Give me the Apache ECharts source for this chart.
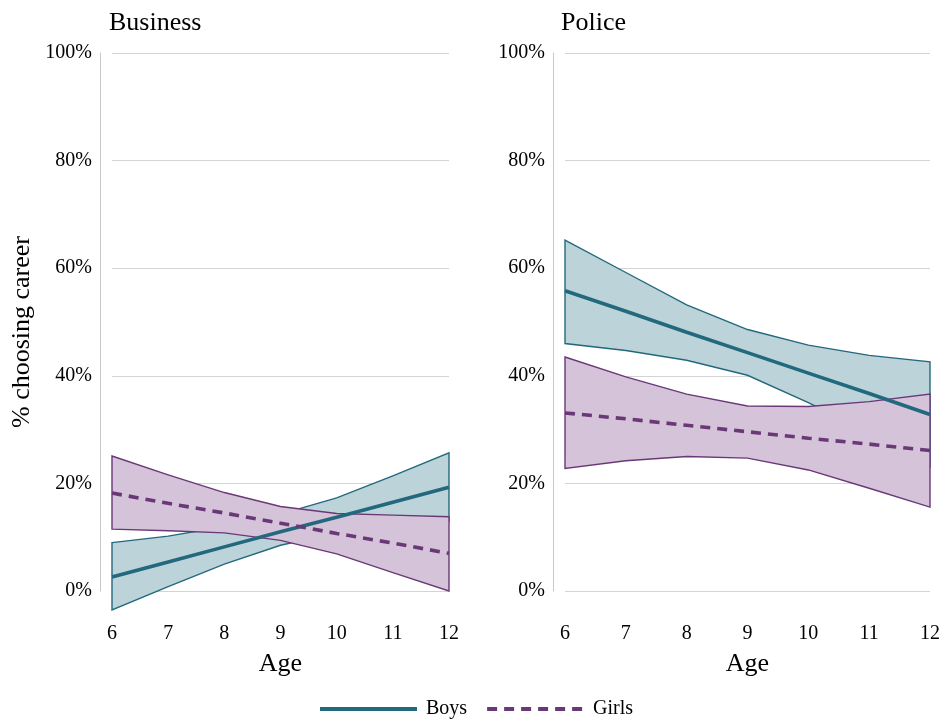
<!DOCTYPE html>
<html>
<head>
<meta charset="utf-8">
<script src="https://cdn.jsdelivr.net/npm/echarts@6/dist/echarts.min.js"></script>
<style>
  html, body { margin: 0; padding: 0; background: #fff; }
  #chart { width: 943px; height: 719px; }
</style>
</head>
<body>
<div id="chart"></div>
<script>
// Ages on the horizontal axis
const ages = [6, 7, 8, 9, 10, 11, 12];
const yTicks = [0, 20, 40, 60, 80, 100];

// Business: predicted % and confidence band
const businessBoysMid = [2.6, 5.4, 8.2, 11.0, 13.7, 16.5, 19.3];
const businessBoysLow = [-3.5, 0.8, 5.0, 8.5, 10.8, 12.0, 13.0];
const businessBoysHigh = [9.0, 10.2, 12.0, 14.3, 17.3, 21.4, 25.7];
const businessGirlsMid = [18.2, 16.3, 14.5, 12.6, 10.7, 8.9, 7.0];
const businessGirlsLow = [11.5, 11.2, 10.8, 9.4, 6.9, 3.4, 0.0];
const businessGirlsHigh = [25.1, 21.6, 18.3, 15.7, 14.4, 14.1, 13.8];

// Police: predicted % and confidence band
const policeBoysMid = [55.8, 52.0, 48.1, 44.3, 40.5, 36.7, 32.8];
const policeBoysLow = [46.0, 44.7, 42.9, 40.1, 35.0, 29.5, 23.0];
const policeBoysHigh = [65.2, 59.2, 53.2, 48.6, 45.7, 43.8, 42.6];
const policeGirlsMid = [33.1, 32.0, 30.8, 29.6, 28.4, 27.3, 26.1];
const policeGirlsLow = [22.8, 24.2, 25.0, 24.7, 22.5, 19.1, 15.6];
const policeGirlsHigh = [43.5, 39.8, 36.6, 34.4, 34.3, 35.2, 36.6];

const FONT = '"Liberation Serif", "Times New Roman", serif';
const BOYS = '#22697d';
const BOYS_FILL = '#bcd3da';
const GIRLS = '#6a3877';
const GIRLS_FILL = '#d4c3d9';

// Filled band polygon built from the lower/upper bounds through the axis scales
function band(name, axis, low, high, stroke, fill, z) {
  return {
    type: 'custom',
    name: name,
    xAxisIndex: axis,
    yAxisIndex: axis,
    clip: false,
    z: z,
    silent: true,
    data: ages.map((a, i) => [a, low[i], high[i]]),
    encode: { x: 0, y: [1, 2] },
    renderItem: function (params, api) {
      if (params.dataIndex !== 0) return null;
      const pts = [];
      for (let i = 0; i < ages.length; i++) pts.push(api.coord([ages[i], high[i]]));
      for (let i = ages.length - 1; i >= 0; i--) pts.push(api.coord([ages[i], low[i]]));
      return {
        type: 'polygon',
        shape: { points: pts },
        style: { fill: fill, stroke: stroke, lineWidth: 1.4 }
      };
    }
  };
}

function trend(name, axis, values, color, dashed) {
  return {
    type: 'line',
    name: name,
    xAxisIndex: axis,
    yAxisIndex: axis,
    symbol: 'none',
    z: 5,
    silent: true,
    data: ages.map((a, i) => [a, values[i]]),
    lineStyle: { color: color, width: 3.6, type: dashed ? [10, 7] : 'solid' },
    itemStyle: { color: color }
  };
}

function xAxis(idx) {
  return {
    type: 'value', gridIndex: idx, min: 6, max: 12, interval: 1,
    axisLine: { show: false }, axisTick: { show: false }, splitLine: { show: false },
    axisLabel: { margin: 33, fontFamily: FONT, fontSize: 20, color: '#000' },
    name: 'Age', nameLocation: 'middle', nameGap: 60,
    nameTextStyle: { fontFamily: FONT, fontSize: 26, color: '#000' }
  };
}

function yAxis(idx) {
  return {
    type: 'value', gridIndex: idx, min: yTicks[0], max: yTicks[yTicks.length - 1], interval: 20,
    offset: 12,
    axisLine: { show: true, lineStyle: { color: '#c8c8c8', width: 1 } },
    axisTick: { show: false },
    splitLine: { show: true, lineStyle: { color: '#d4d4d4', width: 1 } },
    axisLabel: { margin: 8, formatter: '{value}%', fontFamily: FONT, fontSize: 20, color: '#000' }
  };
}

const chart = echarts.init(document.getElementById('chart'), null, { renderer: 'canvas' });
chart.setOption({
  animation: false,
  backgroundColor: '#fff',
  title: [
    { text: 'Business', left: 104, top: 5, textStyle: { fontFamily: FONT, fontSize: 26, fontWeight: 'normal', color: '#000' } },
    { text: 'Police', left: 556, top: 5, textStyle: { fontFamily: FONT, fontSize: 26, fontWeight: 'normal', color: '#000' } }
  ],
  grid: [
    { left: 112, top: 53, width: 337, height: 538 },
    { left: 565, top: 53, width: 365, height: 538 }
  ],
  xAxis: [xAxis(0), xAxis(1)],
  yAxis: [yAxis(0), yAxis(1)],
  legend: {
    data: ['Boys', 'Girls'],
    left: 313, top: 694,
    itemWidth: 97, itemHeight: 14, itemGap: 18,
    itemStyle: { opacity: 0 },
    lineStyle: { width: 4 },
    textStyle: { fontFamily: FONT, fontSize: 20, color: '#000', padding: [0, 0, 0, 4] }
  },
  graphic: [
    {
      type: 'text', x: 22, y: 332, rotation: Math.PI / 2,
      style: { text: '% choosing career', font: '26px ' + FONT, fill: '#000', align: 'center', verticalAlign: 'middle' }
    }
  ],
  series: [
    band('Boys band', 0, businessBoysLow, businessBoysHigh, BOYS, BOYS_FILL, 1),
    band('Girls band', 0, businessGirlsLow, businessGirlsHigh, GIRLS, GIRLS_FILL, 2),
    trend('Boys', 0, businessBoysMid, BOYS, false),
    trend('Girls', 0, businessGirlsMid, GIRLS, true),
    band('Boys band', 1, policeBoysLow, policeBoysHigh, BOYS, BOYS_FILL, 1),
    band('Girls band', 1, policeGirlsLow, policeGirlsHigh, GIRLS, GIRLS_FILL, 2),
    trend('Boys', 1, policeBoysMid, BOYS, false),
    trend('Girls', 1, policeGirlsMid, GIRLS, true)
  ]
});
</script>
</body>
</html>
